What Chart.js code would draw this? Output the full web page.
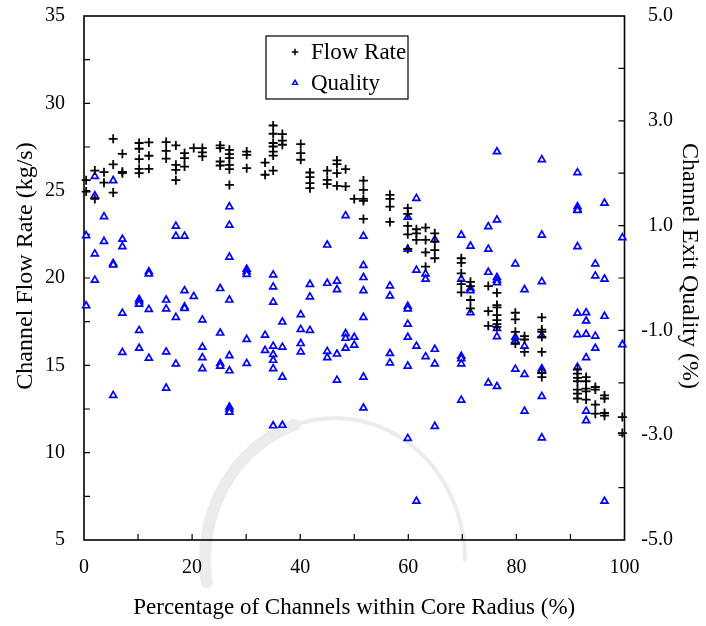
<!DOCTYPE html>
<html>
<head>
<meta charset="utf-8">
<script src="https://cdn.jsdelivr.net/npm/chart.js@4.4.0/dist/chart.umd.min.js"></script>
<style>
  html, body { margin: 0; padding: 0; background: #fff; }
</style>
</head>
<body>
<canvas id="coreChart" width="706" height="626"></canvas>
<script>
// flow rate columns: x position (%) and the flow rates (kg/s) read at that position
const flowPct = [0.4, 2.0, 3.7, 5.4, 7.1, 10.2, 12.0, 15.2, 17.0, 18.6, 20.3, 21.9, 25.2, 26.9, 30.1,
  33.5, 35.0, 36.7, 40.1, 41.8, 45.0, 46.8, 48.4, 50.0, 51.7, 56.6, 59.9, 61.5, 63.2, 64.9,
  69.8, 71.5, 74.8, 76.4, 79.8, 81.5, 84.7, 91.3, 92.9, 94.6, 96.3, 99.6];
const flowRate = [
  [25.60, 24.95], [26.15, 24.53], [26.06, 25.46], [27.97, 26.50, 24.89], [27.11, 26.08, 26.00],
  [27.73, 27.40, 26.81, 26.25, 26.00], [27.76, 27.00, 26.25], [27.78, 27.28, 26.84],
  [27.59, 26.48, 26.19, 25.60], [27.15, 26.86, 26.38], [27.44], [27.44, 27.19, 26.96],
  [27.59, 27.44, 26.67, 26.44], [27.34, 27.09, 26.86, 26.48, 26.23, 25.33], [27.24, 27.05, 26.29],
  [26.61, 25.91], [28.73, 28.26, 27.73, 27.53, 27.24, 27.01, 26.15], [28.24, 27.86, 27.63],
  [27.67, 27.15, 26.77], [26.04, 25.77, 25.43, 25.14], [26.15, 25.62, 25.37],
  [26.73, 26.52, 26.00, 25.28], [26.23, 25.24], [24.53], [25.58, 25.05, 24.53, 24.41, 23.38],
  [24.76, 24.53, 24.09, 23.21], [24.00, 23.67, 22.98, 22.50, 21.66], [22.79, 22.56, 22.18],
  [22.88, 22.18, 21.47, 20.65], [22.56, 22.08, 21.60, 21.13],
  [21.13, 20.87, 20.27, 19.65, 19.18], [19.78, 19.54, 18.74, 18.26], [19.54, 18.10, 17.26],
  [19.15, 18.45, 18.32, 17.87, 17.59, 17.36, 17.20], [18.01, 17.63, 16.92, 16.25],
  [16.67, 16.48, 15.77], [17.74, 17.05, 16.92, 16.63, 15.77, 14.56, 14.33],
  [14.76, 14.53, 14.28, 14.09, 13.61, 13.38, 13.10], [14.33, 14.09, 13.67, 13.51, 13.04],
  [13.76, 13.61, 12.75, 12.23], [13.28, 13.10, 12.27, 12.12], [12.04, 11.12]
];

// exit quality columns: same x positions, qualities (%) read at each
const qualityPct = flowPct;
const quality = [
  [0.81, -0.53], [1.94, 1.57, 0.46, -0.04], [1.17, 0.70], [1.86, 0.28, 0.25, -2.24],
  [0.74, 0.60, -0.67, -1.42], [-0.41, -0.45, -0.50, -1.00, -1.34], [0.12, 0.08, -0.60, -1.53],
  [-0.42, -0.59, -1.41, -2.10], [0.99, 0.80, -0.75, -1.64], [0.80, -0.24, -0.55, -0.58],
  [-0.35], [-0.80, -1.32, -1.52, -1.73], [-0.20, -1.05, -1.63, -1.68],
  [1.36, 1.01, 0.40, -0.42, -1.48, -1.77, -2.46, -2.51, -2.56], [0.17, 0.12, 0.07, -1.17, -1.63],
  [-1.09, -1.38], [0.06, -0.17, -0.46, -1.30, -1.46, -1.57, -1.73, -2.82],
  [-0.84, -1.32, -1.89, -2.81], [-0.70, -0.98, -1.25, -1.41], [-0.12, -0.36, -1.00],
  [0.63, -0.10, -1.40, -1.52], [-0.06, -0.22, -1.45, -1.95], [1.19, -1.06, -1.15, -1.34],
  [-1.13, -1.28], [0.80, 0.24, 0.01, -0.24, -0.75, -1.89, -2.48], [-0.15, -0.34, -1.44, -1.62],
  [1.16, 0.55, -0.54, -0.59, -0.88, -1.13, -1.68, -3.06], [1.52, 0.15, -1.30, -4.26],
  [0.08, -0.02, -1.50], [0.73, -1.36, -1.64, -2.83], [0.82, -0.02, -1.49, -1.54, -1.64, -2.33],
  [0.61, -0.20, -0.24, -0.66], [0.98, 0.55, 0.11, -2.00],
  [2.41, 1.11, 0.01, -0.04, -0.09, -0.96, -1.12, -2.07], [0.27, -1.13, -1.19, -1.22, -1.74],
  [-0.22, -1.30, -1.84, -2.54], [2.26, 0.82, -0.07, -1.10, -1.73, -1.77, -2.26, -3.05],
  [2.01, 1.36, 1.31, 1.29, 0.60, -0.67, -1.08, -1.70], [-0.66, -0.82, -1.07, -1.52, -2.54, -2.72],
  [0.27, 0.04, -1.11, -1.34], [1.43, -0.02, -0.73, -4.26], [0.77, -1.27]
];

// labelled ticks, and the small inside tick marks
const pctTicks = [0, 20, 40, 60, 80, 100];
const flowTicks = [5, 10, 15, 20, 25, 30, 35];
const qualityTicks = [-5, -3, -1, 1, 3, 5];
const pctMarks = [10, 20, 30, 40, 50, 60, 70, 80, 90];
const flowMarks = [7.5, 10, 12.5, 15, 17.5, 20, 22.5, 25, 27.5, 30, 32.5];
const qualityMarks = [-4, -3, -2, -1, 0, 1, 2, 3, 4];

const toPoints = (xs, cols) => cols.flatMap((c, i) => c.map(v => ({ x: xs[i], y: v })));

const serif = 'Liberation Serif';

// faint grey arch of the publisher watermark behind the plot
const watermarkPlugin = {
  id: 'watermark',
  beforeDraw(chart) {
    const { ctx } = chart;
    ctx.save();
    ctx.strokeStyle = '#ececec';
    ctx.lineCap = 'round';
    ctx.lineWidth = 4;
    ctx.beginPath();
    ctx.ellipse(335, 560, 130, 142, 0, Math.PI * 1.2, Math.PI * 2);
    ctx.stroke();
    ctx.lineWidth = 12;
    ctx.beginPath();
    ctx.ellipse(335, 560, 130, 142, 0, Math.PI * 0.95, Math.PI * 1.4);
    ctx.stroke();
    ctx.restore();
  }
};

// frame round the plot with inward tick marks, and the boxed legend
const framePlugin = {
  id: 'frame',
  beforeDatasetsDraw(chart) {
    const { ctx, chartArea: { left, top, right, bottom }, scales: { x, y, y1 } } = chart;
    ctx.save();
    ctx.strokeStyle = '#000';
    ctx.lineWidth = 1.6;
    ctx.strokeRect(left, top, right - left, bottom - top);
    ctx.lineWidth = 1.2;
    ctx.beginPath();
    pctMarks.forEach(v => { const p = x.getPixelForValue(v); ctx.moveTo(p, bottom); ctx.lineTo(p, bottom - 6); });
    flowMarks.forEach(v => { const p = y.getPixelForValue(v); ctx.moveTo(left, p); ctx.lineTo(left + 6, p); });
    qualityMarks.forEach(v => { const p = y1.getPixelForValue(v); ctx.moveTo(right, p); ctx.lineTo(right - 6, p); });
    ctx.stroke();
    ctx.restore();
  },
  afterDraw(chart) {
    const { ctx, chartArea: { left, top } } = chart;
    const bx = left + 182, by = top + 20, bw = 142, bh = 63;
    ctx.save();
    ctx.fillStyle = '#fff';
    ctx.fillRect(bx, by, bw, bh);
    ctx.strokeStyle = '#000';
    ctx.lineWidth = 1.2;
    ctx.strokeRect(bx, by, bw, bh);
    ctx.font = '23px "' + serif + '"';
    ctx.textBaseline = 'middle';
    chart.data.datasets.forEach((ds, i) => {
      const cy = by + 16 + i * 31;
      ctx.strokeStyle = ds.borderColor;
      ctx.fillStyle = ds.backgroundColor;
      ctx.lineWidth = ds.borderWidth - 0.3;
      Chart.helpers.drawPoint(ctx, {
        pointStyle: ds.pointStyle, radius: ds.pointRadius - 1.2, borderWidth: ds.borderWidth - 0.3, rotation: 0
      }, bx + 29, cy);
      ctx.fillStyle = '#000';
      ctx.fillText(ds.label, bx + 45, cy + 1);
    });
    ctx.restore();
  }
};

// the y scales add tick padding above the top label; the frame should start at the top margin
const noEndPadding = s => { s.paddingTop = 0; s.paddingBottom = 0; };

new Chart(document.getElementById('coreChart'), {
  type: 'scatter',
  data: {
    datasets: [
      {
        label: 'Flow Rate',
        data: toPoints(flowPct, flowRate),
        yAxisID: 'y',
        pointStyle: 'cross',
        pointRadius: 4.5,
        borderColor: '#000',
        backgroundColor: '#000',
        borderWidth: 1.8,
        clip: false
      },
      {
        label: 'Quality',
        data: toPoints(qualityPct, quality),
        yAxisID: 'y1',
        pointStyle: 'triangle',
        pointRadius: 4,
        borderColor: '#0000ff',
        backgroundColor: '#ffffff',
        borderWidth: 1.7,
        clip: false
      }
    ]
  },
  options: {
    responsive: false,
    animation: false,
    layout: { padding: { top: 16, left: 0, right: 33, bottom: 0 } },
    plugins: { legend: { display: false }, tooltip: { enabled: false } },
    scales: {
      x: {
        type: 'linear', position: 'bottom', min: 0, max: 100,
        afterBuildTicks: s => { s.ticks = pctTicks.map(v => ({ value: v })); },
        afterFit: s => { s.height = 86; },
        grid: { display: false, drawTicks: false },
        border: { display: false },
        ticks: { color: '#000', font: { family: serif, size: 20 }, padding: 16, maxRotation: 0, autoSkip: false },
        title: { display: true, text: 'Percentage of Channels within Core Radius (%)', color: '#000',
          font: { family: serif, size: 23 }, padding: { top: 0, bottom: 4 } }
      },
      y: {
        type: 'linear', position: 'left', min: 5, max: 35,
        afterBuildTicks: s => { s.ticks = flowTicks.map(v => ({ value: v })); },
        afterFit: s => { s.width = 84; noEndPadding(s); },
        grid: { display: false, drawTicks: false },
        border: { display: false },
        ticks: { color: '#000', font: { family: serif, size: 20 }, padding: 19 },
        title: { display: true, text: '    Channel Flow Rate (kg/s)', color: '#000',
          font: { family: serif, size: 24 }, padding: { top: 11, bottom: 0 } }
      },
      y1: {
        type: 'linear', position: 'right', min: -5, max: 5,
        afterBuildTicks: s => { s.ticks = qualityTicks.map(v => ({ value: v })); },
        afterFit: s => { s.width = 48.5; noEndPadding(s); },
        grid: { display: false, drawTicks: false },
        border: { display: false },
        ticks: { color: '#000', font: { family: serif, size: 20 }, padding: 12, crossAlign: 'far',
          callback: v => v.toFixed(1) },
        title: { display: true, text: 'Channel Exit Quality (%)    ', color: '#000',
          font: { family: serif, size: 24 }, padding: { top: -31, bottom: 0 } }
      }
    }
  },
  plugins: [watermarkPlugin, framePlugin]
});
</script>
</body>
</html>
